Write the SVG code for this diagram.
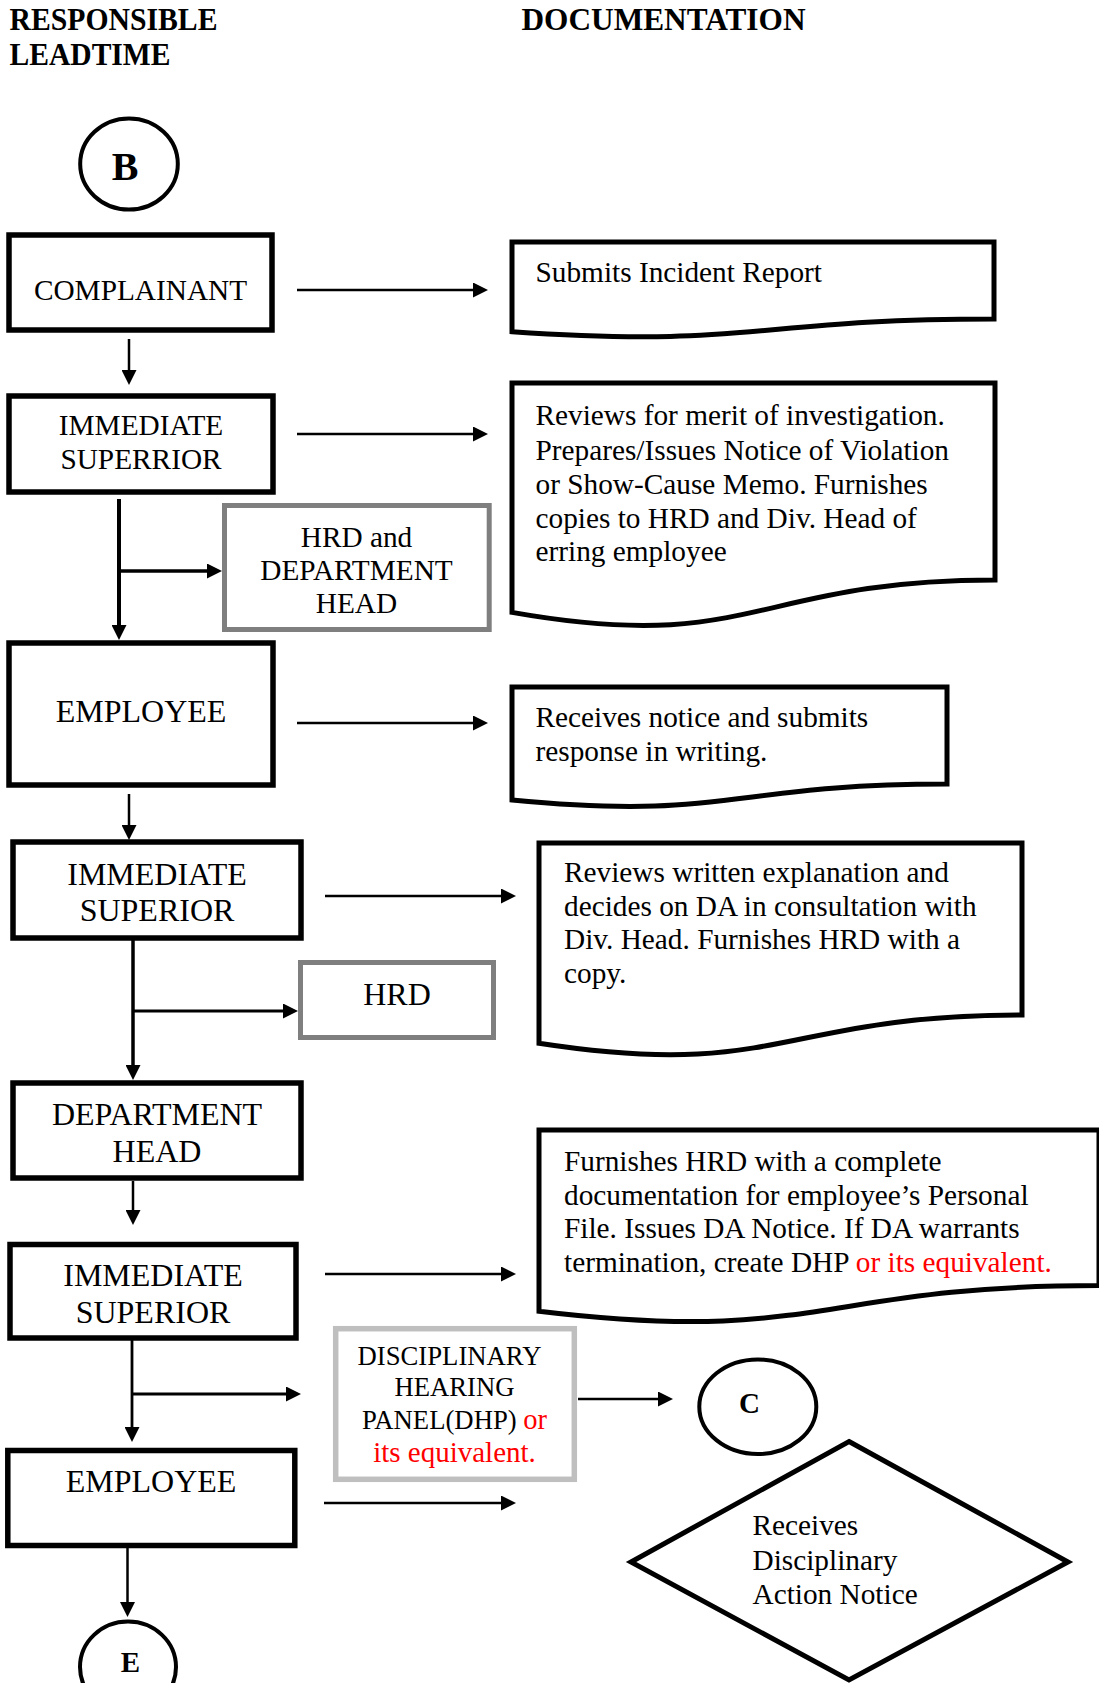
<svg xmlns="http://www.w3.org/2000/svg" width="1099" height="1683" viewBox="0 0 1099 1683">
  <style>
    text { font-family: "Liberation Serif", "Times New Roman", serif; fill: #000; }
    .hdr { font-size: 30.5px; font-weight: bold; }
    .lbl { font-size: 29.3px; text-anchor: middle; }
    .big { font-size: 32px; }
    .doc { font-size: 29.3px; }
    .sm { font-size: 26.7px; text-anchor: middle; }
    .ref { font-weight: bold; text-anchor: middle; }
    .red { fill: #ff0000; }
    .box { fill: #fff; stroke: #000; stroke-width: 5.5; }
    .gbox { fill: #fff; stroke: #7f7f7f; stroke-width: 5; }
    .lbox { fill: #fff; stroke: #bfbfbf; stroke-width: 5.5; }
    .shape { fill: #fff; stroke: #000; stroke-width: 5; stroke-linejoin: miter; }
    .ring { fill: #fff; stroke: #000; stroke-width: 4; }
    .conn path { fill: none; stroke: #000; stroke-width: 2.5; marker-end: url(#arrow); }
  </style>
  <defs>
    <marker id="arrow" markerUnits="userSpaceOnUse" markerWidth="15" markerHeight="15" viewBox="0 0 15 15" refX="10" refY="7.5" orient="auto">
      <path d="M0,0 L15,7.5 L0,15 Z" fill="#000"/>
    </marker>
  </defs>
  <rect width="1099" height="1683" fill="#fff"/>

  <!-- column headings -->
  <g id="headings">
    <text class="hdr" x="9.5" y="30" textLength="208" lengthAdjust="spacingAndGlyphs">RESPONSIBLE</text>
    <text class="hdr" x="9.5" y="65" textLength="161" lengthAdjust="spacingAndGlyphs">LEADTIME</text>
    <text class="hdr" x="521.5" y="30" textLength="284" lengthAdjust="spacingAndGlyphs">DOCUMENTATION</text>
  </g>

  <!-- connectors -->
  <g id="connectors" class="conn">
    <path d="M297,290 H483"/>
    <path d="M297,434 H483"/>
    <path d="M297,723 H483"/>
    <path d="M325,896 H511"/>
    <path d="M325,1274 H511"/>
    <path d="M324,1503 H511"/>
    <path d="M578,1399 H668"/>
    <path d="M129,339 V380"/>
    <path d="M129,794 V835"/>
    <path d="M133,1181 V1220"/>
    <path d="M127.5,1548 V1612"/>
    <path d="M119,499 V635" style="stroke-width:4"/>
    <path d="M119,571 H217" style="stroke-width:3.5"/>
    <path d="M133,940 V1075" style="stroke-width:3.5"/>
    <path d="M133,1011 H293" style="stroke-width:3"/>
    <path d="M132,1340 V1437" style="stroke-width:2.8"/>
    <path d="M132,1394 H296" style="stroke-width:2.8"/>
  </g>

  <!-- off-page connector B -->
  <g id="ref-b">
    <ellipse class="ring" cx="129" cy="164" rx="48.8" ry="45.5"/>
    <text class="ref" x="125" y="180" font-size="40">B</text>
  </g>

  <g id="complainant">
    <rect class="box" x="9" y="235" width="263" height="95"/>
    <text class="lbl" x="140.5" y="300">COMPLAINANT</text>
  </g>

  <g id="doc-incident">
    <path class="shape" d="M512,242 H994 V319 C753,319 753,348.3 512,331.7 Z"/>
    <text class="doc" x="535.5" y="282">Submits Incident Report</text>
  </g>

  <g id="superior-1">
    <rect class="box" x="9" y="396" width="264" height="96"/>
    <text class="lbl" x="141" y="435">IMMEDIATE</text>
    <text class="lbl" x="141" y="469">SUPERRIOR</text>
  </g>

  <g id="doc-review">
    <path class="shape" d="M512,383 H995 V580 C753.5,580 753.5,655 512,612.4 Z"/>
    <text class="doc" x="535.5" y="425">Reviews for merit of investigation.</text>
    <text class="doc" x="535.5" y="459.5">Prepares/Issues Notice of Violation</text>
    <text class="doc" x="535.5" y="493.5">or Show-Cause Memo. Furnishes</text>
    <text class="doc" x="535.5" y="527.5">copies to HRD and Div. Head of</text>
    <text class="doc" x="535.5" y="561">erring employee</text>
  </g>

  <g id="hrd-dept-head">
    <rect class="gbox" x="224.5" y="505.5" width="264.7" height="124"/>
    <text class="lbl" x="356.5" y="546.5">HRD and</text>
    <text class="lbl" x="356.5" y="579.5">DEPARTMENT</text>
    <text class="lbl" x="356.5" y="613">HEAD</text>
  </g>

  <g id="employee-1">
    <rect class="box" x="9" y="643" width="264" height="142"/>
    <text class="lbl big" x="141" y="722">EMPLOYEE</text>
  </g>

  <g id="doc-response">
    <path class="shape" d="M512,687 H947 V784 C729.5,784 729.5,821 512,800 Z"/>
    <text class="doc" x="535.5" y="726.5">Receives notice and submits</text>
    <text class="doc" x="535.5" y="761">response in writing.</text>
  </g>

  <g id="superior-2">
    <rect class="box" x="13" y="842" width="288" height="96"/>
    <text class="lbl big" x="157" y="885">IMMEDIATE</text>
    <text class="lbl big" x="157" y="920.5">SUPERIOR</text>
  </g>

  <g id="doc-decision">
    <path class="shape" d="M539,843 H1022 V1015 C780.5,1015 780.5,1080.5 539,1043.3 Z"/>
    <text class="doc" x="564" y="882">Reviews written explanation and</text>
    <text class="doc" x="564" y="915.5">decides on DA in consultation with</text>
    <text class="doc" x="564" y="949">Div. Head. Furnishes HRD with a</text>
    <text class="doc" x="564" y="983">copy.</text>
  </g>

  <g id="hrd">
    <rect class="gbox" x="300.5" y="962.5" width="193" height="75"/>
    <text class="lbl big" x="397" y="1005">HRD</text>
  </g>

  <g id="dept-head">
    <rect class="box" x="13" y="1083" width="288" height="95"/>
    <text class="lbl big" x="157" y="1125">DEPARTMENT</text>
    <text class="lbl big" x="157" y="1161.5">HEAD</text>
  </g>

  <g id="doc-da-notice">
    <path class="shape" d="M539,1130 H1099 V1285.6 C819,1285.6 819,1344.9 539,1311.2 Z"/>
    <text class="doc" x="564" y="1170.5">Furnishes HRD with a complete</text>
    <text class="doc" x="564" y="1204.5">documentation for employee’s Personal</text>
    <text class="doc" x="564" y="1238">File. Issues DA Notice. If DA warrants</text>
    <text class="doc" x="564" y="1271.5">termination, create DHP <tspan class="red">or its equivalent.</tspan></text>
  </g>

  <g id="superior-3">
    <rect class="box" x="10" y="1244.5" width="286" height="93.5"/>
    <text class="lbl big" x="153" y="1286">IMMEDIATE</text>
    <text class="lbl big" x="153" y="1322.5">SUPERIOR</text>
  </g>

  <g id="dhp">
    <rect class="lbox" x="335.7" y="1328.7" width="238.6" height="150.6"/>
    <text class="sm" x="449.5" y="1365">DISCIPLINARY</text>
    <text class="sm" x="454.5" y="1395.5">HEARING</text>
    <text class="sm" x="454.5" y="1428.5">PANEL(DHP) <tspan class="red" style="font-size:28.5px">or</tspan></text>
    <text class="sm red" x="454.5" y="1461.5" style="font-size:29px">its equivalent.</text>
  </g>

  <!-- off-page connector C -->
  <g id="ref-c">
    <ellipse class="ring" cx="757.8" cy="1406.7" rx="58.5" ry="47.3"/>
    <text class="ref" x="749.5" y="1413" font-size="29">C</text>
  </g>

  <g id="employee-2">
    <rect class="box" x="7.8" y="1450.5" width="287" height="95"/>
    <text class="lbl big" x="151" y="1491.5">EMPLOYEE</text>
  </g>

  <g id="receives-da">
    <polygon class="shape" points="849,1441.5 1068,1562 849,1680 631,1562"/>
    <text class="doc" x="752.5" y="1534.5">Receives</text>
    <text class="doc" x="752.5" y="1569.5">Disciplinary</text>
    <text class="doc" x="752.5" y="1604">Action Notice</text>
  </g>

  <!-- off-page connector E -->
  <g id="ref-e">
    <ellipse class="ring" cx="128" cy="1667" rx="48" ry="45.5"/>
    <text class="ref" x="130.5" y="1671.5" font-size="29">E</text>
  </g>
</svg>
